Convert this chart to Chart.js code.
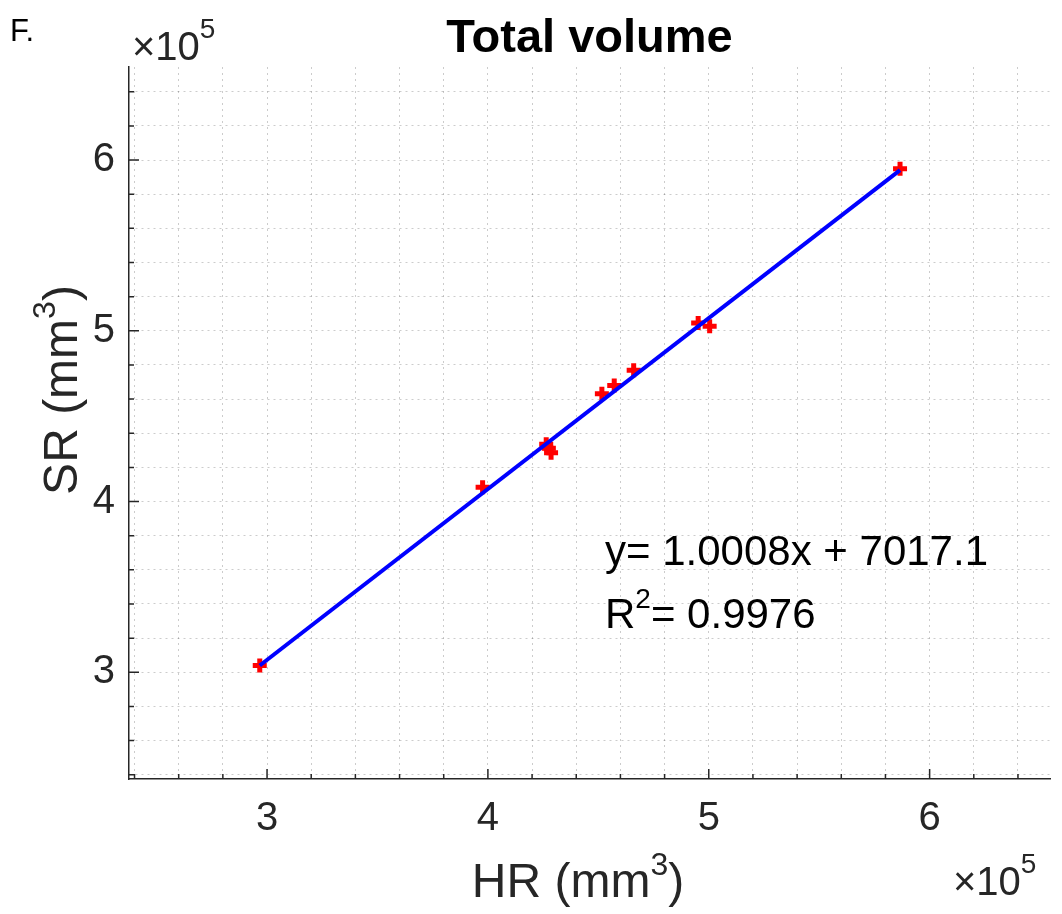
<!DOCTYPE html>
<html>
<head>
<meta charset="utf-8">
<script src="https://cdn.jsdelivr.net/npm/chart.js@4.4.1/dist/chart.umd.min.js"></script>
<style>
  html, body { margin: 0; padding: 0; background: #fff; }
  #wrap { width: 1062px; height: 914px; }
</style>
</head>
<body>
<div id="wrap"><canvas id="volChart" width="1062" height="914"></canvas></div>
<script>
// Volumes in units of 1e5 mm^3
const hrValues = [2.967, 3.976, 4.264, 4.276, 4.286, 4.516, 4.572, 4.660, 4.952, 5.004, 5.866];
const srValues = [3.040, 4.083, 4.335, 4.312, 4.286, 4.631, 4.680, 4.769, 5.045, 5.026, 5.949];

// Linear fit shown on the figure
const fitSlope = 1.0008;
const fitIntercept = 7017.1; // mm^3
const fitR2 = 0.9976;

// Axis limits and ticks (x1e5)
const axisMin = 2.375;
const axisMax = 6.545;
const majorTicks = [3, 4, 5, 6];
const minorStep = 0.2;

const FONT = '"Liberation Sans", Helvetica, Arial, sans-serif';
const INK = '#262626';

// minor grid positions every 0.2
const gridVals = [];
for (let v = 2.4; v < axisMax; v += minorStep) gridVals.push(Math.round(v * 10) / 10);

// fit line drawn across the data range
const fitX = [Math.min(...hrValues), Math.max(...hrValues)];
const fitLine = fitX.map(x => ({ x: x, y: fitSlope * x + fitIntercept / 1e5 }));
const points = hrValues.map((x, i) => ({ x: x, y: srValues[i] }));

// draw text pieces with superscripts
function drawRich(ctx, parts, x, y, align) {
    let total = 0;
    parts.forEach(p => {
        ctx.font = (p.weight || '') + ' ' + p.size + 'px ' + FONT;
        p.w = ctx.measureText(p.t).width;
        total += p.w;
    });
    let cx = align === 'center' ? x - total / 2 : x;
    parts.forEach(p => {
        ctx.font = (p.weight || '') + ' ' + p.size + 'px ' + FONT;
        ctx.fillText(p.t, cx, y - (p.rise || 0));
        cx += p.w;
    });
}

const innerTicks = {
    id: 'innerTicks',
    afterDraw(chart) {
        const ctx = chart.ctx;
        const xs = chart.scales.x, ys = chart.scales.y;
        const area = chart.chartArea;
        ctx.save();
        ctx.strokeStyle = INK;
        ctx.lineWidth = 1.5;
        gridVals.forEach(v => {
            const len = majorTicks.includes(v) ? 10 : 5;
            const px = xs.getPixelForValue(v);
            const py = ys.getPixelForValue(v);
            ctx.beginPath();
            ctx.moveTo(px, area.bottom);
            ctx.lineTo(px, area.bottom - len);
            ctx.moveTo(area.left, py);
            ctx.lineTo(area.left + len, py);
            ctx.stroke();
        });
        ctx.restore();
    }
};

const figureText = {
    id: 'figureText',
    afterDraw(chart) {
        const ctx = chart.ctx;
        const area = chart.chartArea;
        ctx.save();
        ctx.fillStyle = '#000';
        ctx.textBaseline = 'alphabetic';
        ctx.textAlign = 'left';

        // panel letter and title
        drawRich(ctx, [{ t: 'F.', size: 31 }], 10, 41, 'left');
        drawRich(ctx, [{ t: 'Total volume', size: 47, weight: 'bold' }], (area.left + area.right) / 2, 52, 'center');

        // exponent labels
        ctx.fillStyle = INK;
        drawRich(ctx, [{ t: '\u00d710', size: 40 }, { t: '5', size: 28, rise: 22 }], 132, 60, 'left');
        drawRich(ctx, [{ t: '\u00d710', size: 40 }, { t: '5', size: 28, rise: 22 }], 953, 895, 'left');

        // axis titles
        drawRich(ctx, [{ t: 'HR (mm', size: 48 }, { t: '3', size: 32, rise: 22 }, { t: ')', size: 48 }], 578, 897, 'center');
        ctx.save();
        ctx.translate(77, 390);
        ctx.rotate(-Math.PI / 2);
        drawRich(ctx, [{ t: 'SR (mm', size: 48 }, { t: '3', size: 32, rise: 22 }, { t: ')', size: 48 }], 0, 0, 'center');
        ctx.restore();

        // fit annotation
        ctx.fillStyle = '#000';
        drawRich(ctx, [{ t: 'y= ' + fitSlope.toFixed(4) + 'x + ' + fitIntercept.toFixed(1), size: 42 }], 605, 565, 'left');
        drawRich(ctx, [{ t: 'R', size: 42 }, { t: '2', size: 28, rise: 20 }, { t: '= ' + fitR2.toFixed(4), size: 42 }], 605, 628, 'left');
        ctx.restore();
    }
};

function axisOptions(isX) {
    return {
        type: 'linear',
        min: axisMin,
        max: axisMax,
        afterBuildTicks: scale => {
            scale.ticks = gridVals.map(v => ({ value: v }));
        },
        afterFit: scale => {
            if (isX) scale.height = 914 - 779;
            else scale.width = 129;
            scale.paddingLeft = 0;
            scale.paddingRight = 0;
            scale.paddingTop = 0;
            scale.paddingBottom = 0;
        },
        ticks: {
            autoSkip: false,
            maxRotation: 0,
            color: INK,
            padding: isX ? 16 : 14,
            font: { family: FONT, size: 40 },
            callback: v => majorTicks.includes(v) ? String(v) : ''
        },
        grid: {
            color: 'rgba(0, 0, 0, 0.2)',
            lineWidth: 1,
            drawTicks: false
        },
        border: {
            display: true,
            color: INK,
            width: 1.5,
            dash: [2, 4]
        }
    };
}

const ctx = document.getElementById('volChart').getContext('2d');
const volChart = new Chart(ctx, {
    type: 'scatter',
    data: {
        datasets: [
            {
                label: 'Fit',
                data: fitLine,
                showLine: true,
                borderColor: '#0000ff',
                borderWidth: 4,
                pointRadius: 0,
                fill: false
            },
            {
                label: 'Volumes',
                data: points,
                pointStyle: 'cross',
                pointRadius: 7,
                pointBorderWidth: 5,
                borderColor: '#ff0000',
                backgroundColor: '#ff0000'
            }
        ]
    },
    options: {
        responsive: false,
        animation: false,
        devicePixelRatio: 1,
        layout: { padding: { top: 67, right: 7, left: 0, bottom: 0 } },
        plugins: {
            legend: { display: false },
            tooltip: { enabled: false }
        },
        scales: {
            x: axisOptions(true),
            y: axisOptions(false)
        }
    },
    plugins: [innerTicks, figureText]
});
</script>
</body>
</html>
